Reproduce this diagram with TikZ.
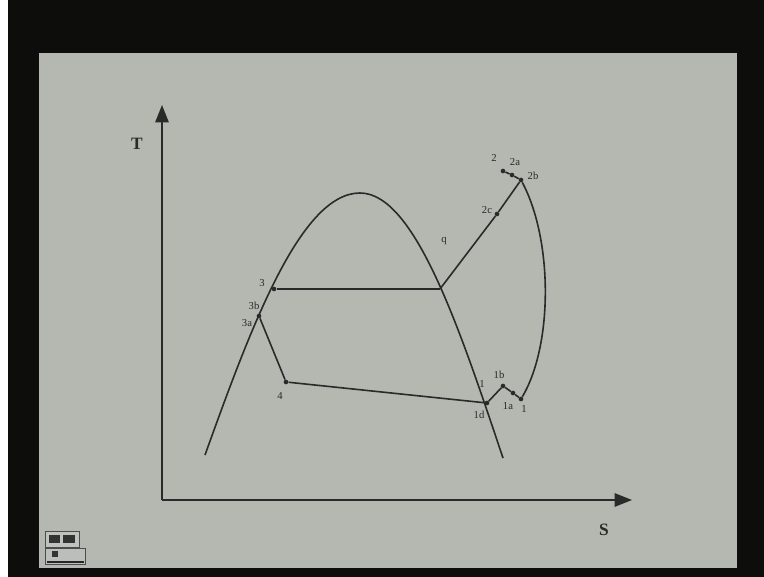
\documentclass[tikz,border=0pt]{standalone}
\usepackage{fontspec}
\setmainfont{Liberation Serif}
\usetikzlibrary{arrows.meta}
\definecolor{slide}{HTML}{B5B7B1}
\definecolor{frame}{HTML}{0D0D0B}
\definecolor{ink}{HTML}{2A2A2A}
\tikzset{
  ln/.style={draw=ink, line width=1.2pt},
  dot/.style={circle, fill=ink, inner sep=0pt, minimum size=3.5pt},
  lbl/.style={text=ink, font=\fontsize{8}{8}\selectfont, inner sep=0.5pt},
  axlbl/.style={text=ink, font=\fontsize{13}{13}\selectfont\bfseries, inner sep=0pt},
  axis/.style={draw=ink, line width=1.3pt, -{Triangle[length=13pt,width=10pt]}}
}
\begin{document}
\begin{tikzpicture}[x=0.75pt,y=-0.75pt]
\useasboundingbox (0,0) rectangle (764,577);
\fill[white] (0,0) rectangle (764,577);
\fill[frame] (8,0) rectangle (764,577);
\fill[slide] (39,53) rectangle (737,568);
% small logo bottom-left
\draw[gray!60!black, fill=slide!85!white, line width=0.6pt] (45,531) rectangle (79,547);
\fill[gray!40!black] (49,535) rectangle (60,543);
\fill[gray!40!black] (63,535) rectangle (75,543);
\draw[gray!60!black, fill=slide!90!white, line width=0.6pt] (45,548) rectangle (85,564);
\fill[gray!40!black] (52,551) rectangle (58,557);
\draw[gray!30!black, line width=1pt] (47,562) -- (84,562);
% axes
\coordinate (O) at (162,500);
\coordinate (Ttip) at (162,105);
\coordinate (Stip) at (632,500);
\draw[axis] (O) -- (Ttip);
\draw[axis] (O) -- (Stip);
\node[axlbl] (T) at (137,144) {T};
\node[axlbl] (S) at (604,530) {S};
% saturation dome
\draw[ln] (205,455) .. controls (250,330) and (300,193) .. (360,193)
                    .. controls (415,193) and (460,330) .. (503,458);
% state points
\node[dot] (p3) at (274,289) {};
\coordinate (g) at (440,289);
\node[dot] (p3a) at (259,316) {};
\node[dot] (p4) at (286,382) {};
\node[dot] (p1d) at (487,403) {};
\node[dot] (p1c) at (503,386) {};
\node[dot] (p1a) at (513,393) {};
\node[dot] (p1) at (521,399) {};
\node[dot] (p2c) at (497,214) {};
\node[dot] (p2) at (503,171) {};
\node[dot] (p2a) at (512,175) {};
\node[dot] (p2b) at (521,180) {};
% process lines
\draw[ln] (p3) -- (g);
\draw[ln] (g) -- (p2c) -- (p2b);
\draw[ln] (p2) -- (p2a) -- (p2b);
\draw[ln] (p2b) .. controls (553,240) and (553,345) .. (p1);
\draw[ln] (p1) -- (p1a) -- (p1c) -- (p1d);
\draw[ln] (p1d) -- (p4);
\draw[ln] (p4) -- (p3a);
% labels
\node[lbl] (l3) at (262,283) {3};
\node[lbl] (l3b) at (254,306) {3b};
\node[lbl] (l3a) at (247,323) {3a};
\node[lbl] (l4) at (280,396) {4};
\node[lbl] (l2) at (494,158) {2};
\node[lbl] (l2a) at (515,162) {2a};
\node[lbl] (l2b) at (533,176) {2b};
\node[lbl] (l2c) at (487,210) {2c};
\node[lbl] (lq) at (444,241) {q};
\node[lbl] (l1b) at (499,375) {1b};
\node[lbl] (l1x) at (482,384) {1};
\node[lbl] (l1d) at (479,415) {1d};
\node[lbl] (l1a) at (508,406) {1a};
\node[lbl] (l1) at (524,409) {1};
\end{tikzpicture}
\end{document}
